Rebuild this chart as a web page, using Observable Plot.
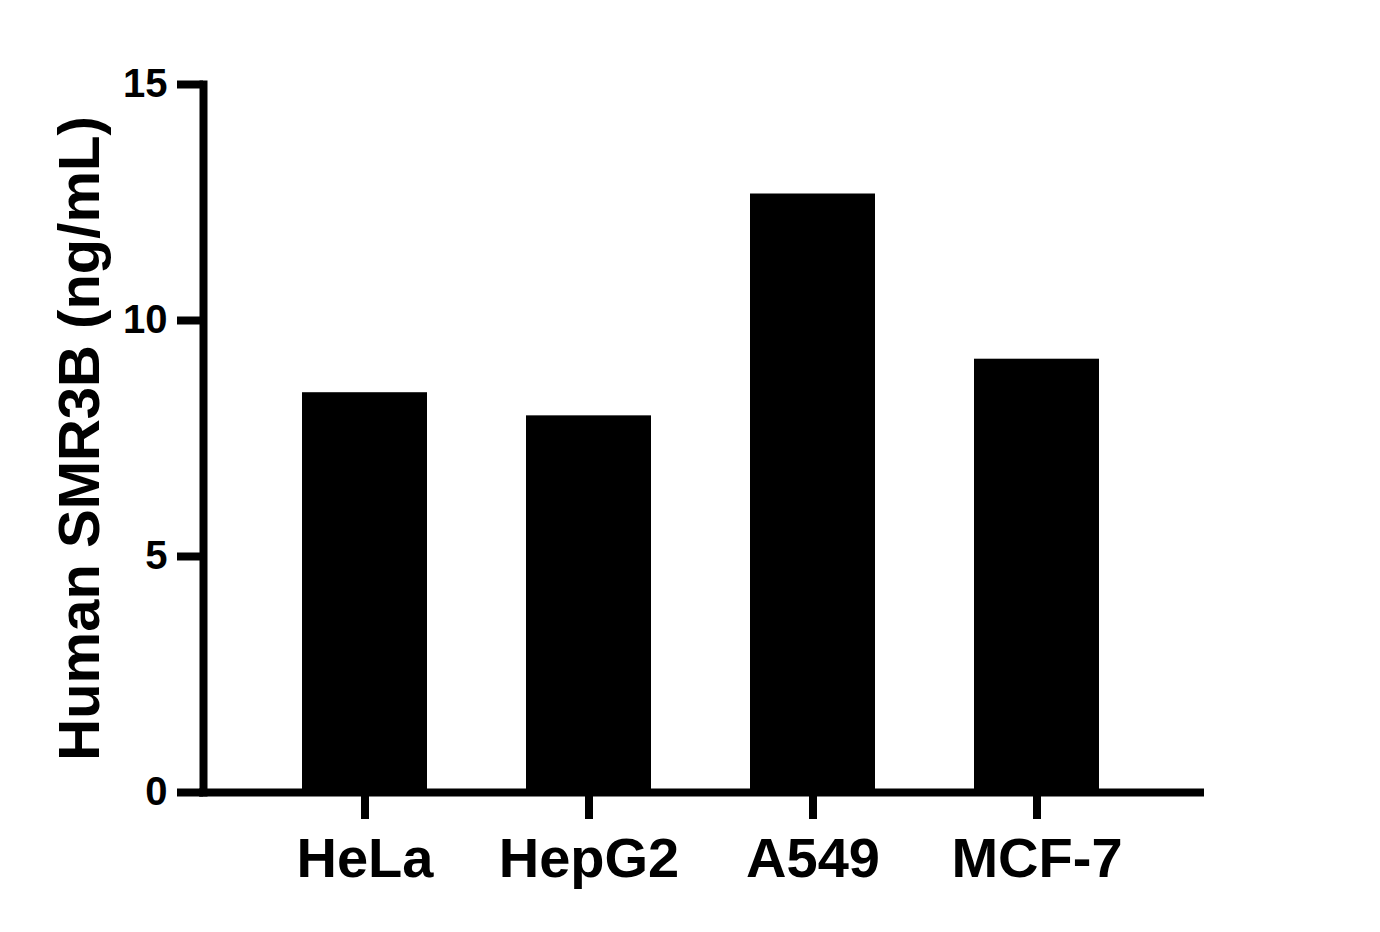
<!DOCTYPE html>
<html>
<head>
<meta charset="utf-8">
<script src="https://cdn.jsdelivr.net/npm/d3@7"></script>
<script src="https://cdn.jsdelivr.net/npm/@observablehq/plot@0.6"></script>
<style>
  html, body { margin: 0; padding: 0; background: #fff; }
  #chart svg { display: block; }
</style>
</head>
<body>
<div id="chart"></div>
<script>
const categories = ["HeLa", "HepG2", "A549", "MCF-7"];
const values = [8.47, 7.98, 12.68, 9.18];
const yTicks = [0, 5, 10, 15];

const data = categories.map((c, i) => ({cell: c, value: values[i]}));

const chart = Plot.plot({
  width: 1380,
  height: 932,
  marginLeft: 203,
  marginRight: 180,
  marginTop: 84,
  marginBottom: 140,
  style: {fontFamily: "'Liberation Sans', Arial, sans-serif", fontWeight: "bold", color: "#000", background: "#fff"},
  x: {domain: categories, padding: 0.442, round: false, range: [203, 1198], label: null},
  y: {domain: [0, 15], label: null},
  marks: [
    Plot.barY(data, {x: "cell", y: "value", fill: "#000"}),
    Plot.axisX({tickSize: 27, tickPadding: 18, strokeWidth: 8, fontSize: 56, fontWeight: "bold", label: null}),
    Plot.axisY({ticks: yTicks, tickSize: 26, tickPadding: 10, strokeWidth: 8, fontSize: 40, fontWeight: "bold", tickFormat: d => String(d),
      label: "Human SMR3B (ng/mL)", labelAnchor: "center", labelArrow: "none", labelOffset: 146}),
    Plot.ruleY([0], {stroke: "#000", strokeWidth: 8, strokeLinecap: "square"}),
    Plot.frame({anchor: "left", stroke: "#000", strokeWidth: 8, strokeLinecap: "square"})
  ]
});

// enlarge the y axis title
chart.querySelectorAll("g[aria-label='y-axis label'] text").forEach(t => {
  t.setAttribute("font-size", 58);
  t.style.fontSize = "58px";
  t.setAttribute("font-weight", "bold");
});
document.getElementById("chart").appendChild(chart);
</script>
</body>
</html>
